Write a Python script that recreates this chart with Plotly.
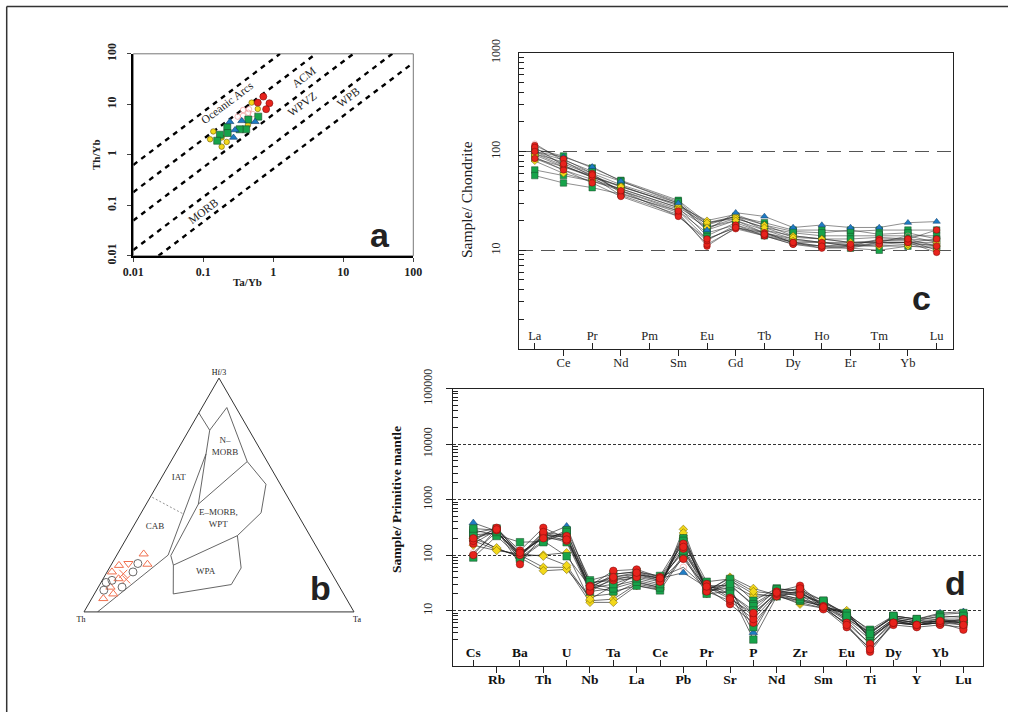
import math
import plotly.graph_objects as go

FIG_W, FIG_H = 1014, 718
SERIF = "Liberation Serif"
SANS = "Liberation Sans"

# ======================= Panel a : Th/Yb vs Ta/Yb =======================
a_green_ta_yb = [0.61, 0.44, 0.22, 0.41, 0.33, 0.173, 0.223, 0.158]
a_green_th_yb = [5.7, 5.0, 3.5, 3.2, 3.2, 2.5, 2.7, 1.9]
a_red_ta_yb = [0.72, 0.60, 0.88, 0.79]
a_red_th_yb = [14.2, 10.8, 10.5, 8.0]
a_yellow_ta_yb = [0.49, 0.60, 0.435, 0.125, 0.183, 0.216, 0.183, 0.139]
a_yellow_th_yb = [10.8, 8.1, 3.9, 2.03, 2.2, 1.8, 1.45, 2.9]
a_blue_ta_yb = [0.24, 0.354, 0.55, 0.284, 0.27]
a_blue_th_yb = [4.5, 4.7, 4.5, 3.1, 2.2]
a_pink_ta_yb = [0.37, 0.45, 0.31, 0.37, 0.51, 0.44]
a_pink_th_yb = [7.7, 8.0, 5.7, 5.9, 6.4, 6.8]

# field boundaries (start and end points, Ta/Yb, Th/Yb)
a_bound_x_start = [0.01, 0.01, 0.01, 0.01, 0.0229]
a_bound_y_start = [0.63, 0.182, 0.05, 0.013, 0.01]
a_bound_x_end = [1.245, 4.07, 13.9, 50.1, 100]
a_bound_y_end = [100, 100, 100, 100, 66.4]

a_field_names = ["Oceanic Arcs", "ACM", "WPVZ", "WPB", "MORB"]
a_field_x = [0.215, 2.75, 2.6, 12.0, 0.1]
a_field_y = [10.8, 34, 10.0, 13.8, 0.078]

a_ticks = [0.01, 0.1, 1, 10, 100]
a_ticktext = ["0.01", "0.1", "1", "10", "100"]

# ======================= Panel b : Hf/3 - Th - Ta =======================
b_d_line_hf = [0.0, 0.243, 0.676, 0.777, 0.851]
b_d_line_th = [0.95, 0.567, 0.21, 0.146, 0.149]
b_d_line_ta = [0.05, 0.19, 0.114, 0.077, 0.0]

b_a_field_hf = [0.777, 0.874, 0.643, 0.461, 0.676]
b_a_field_th = [0.146, 0.034, 0.074, 0.346, 0.21]
b_a_field_ta = [0.077, 0.092, 0.283, 0.193, 0.114]

b_b_field_hf = [0.643, 0.546, 0.424, 0.326, 0.2, 0.241, 0.461]
b_b_field_th = [0.074, 0.053, 0.132, 0.269, 0.569, 0.558, 0.346]
b_b_field_ta = [0.283, 0.401, 0.444, 0.405, 0.231, 0.201, 0.193]

b_wpa_hf = [0.2, 0.077, 0.117, 0.188, 0.326]
b_wpa_th = [0.569, 0.631, 0.396, 0.324, 0.269]
b_wpa_ta = [0.231, 0.292, 0.487, 0.488, 0.405]

b_dash_hf = [0.49, 0.421]
b_dash_th = [0.502, 0.425]
b_dash_ta = [0.008, 0.154]

b_label_text = ["N\u2013<br>MORB", "IAT", "CAB", "E\u2013MORB,<br>WPT", "WPA"]
b_label_hf = [0.707, 0.574, 0.366, 0.399, 0.171]
b_label_th = [0.124, 0.362, 0.554, 0.303, 0.464]
b_label_ta = [0.169, 0.064, 0.08, 0.298, 0.365]

b_tri_hf = [0.248, 0.204, 0.199, 0.171, 0.142, 0.106, 0.077, 0.057]
b_tri_th = [0.655, 0.663, 0.771, 0.811, 0.801, 0.849, 0.853, 0.9]
b_tri_ta = [0.097, 0.133, 0.03, 0.018, 0.057, 0.045, 0.07, 0.043]
b_inv_hf = [0.207]
b_inv_th = [0.732]
b_inv_ta = [0.061]
b_x_hf = [0.163, 0.139]
b_x_th = [0.773, 0.774]
b_x_ta = [0.064, 0.087]
b_circ_hf = [0.207, 0.171, 0.135, 0.126, 0.093, 0.106]
b_circ_th = [0.697, 0.733, 0.829, 0.855, 0.88, 0.806]
b_circ_ta = [0.096, 0.096, 0.036, 0.019, 0.027, 0.088]

# ======================= Panel c : REE / chondrite =======================
c_elements = ["La", "Ce", "Pr", "Nd", "Pm", "Sm", "Eu", "Gd", "Tb", "Dy", "Ho", "Er", "Tm", "Yb", "Lu"]
# values for all elements except Pm (not analysed)
c_green = [
    [105, 90, 68, 51, 32, 19, 22, 19, 16, 16, 15.5, 16, 16, 16],
    [95, 78, 60, 46, 30, 17, 21, 17, 15, 14, 14, 14, 14, 14],
    [65, 57, 50, 42, 27, 14, 19, 15, 13, 12, 12, 12, 12, 11],
    [57, 48, 43, 37, 25, 15, 18, 14, 12, 11, 10.5, 10, 11, 10.5],
    [85, 70, 55, 44, 29, 16, 20, 16, 14, 13, 13, 13.5, 13, 12.5],
    [100, 82, 63, 50, 31, 18, 22, 18, 15.5, 15, 16, 14.5, 15, 13],
]
c_red = [
    [115, 84, 60, 38, 24, 11, 17, 14, 11.5, 11, 11, 13, 13, 16],
    [110, 72, 55, 36, 23, 11.5, 16.5, 14, 11.5, 10.5, 10.5, 12, 12, 13],
    [85, 65, 48, 35, 22, 12.5, 18, 15, 12, 12, 11, 11.5, 12, 9.5],
    [100, 75, 58, 40, 25, 13, 17, 14.5, 12, 11, 11.5, 12.5, 13, 11],
]
c_yellow = [
    [95, 72, 55, 45, 28, 20, 23, 18, 14, 13, 12, 12, 12, 12],
    [88, 65, 52, 42, 27, 18.5, 22, 16, 13, 12, 11.5, 11, 11, 11],
    [92, 70, 57, 44, 29, 19, 21, 17, 13.5, 13, 12, 12.5, 12.5, 10],
    [80, 60, 50, 40, 26, 17, 20, 15, 12.5, 12, 11, 11, 11.5, 11.5],
]
c_blue = [
    [100, 88, 70, 50, 30, 16, 24, 22, 17, 18, 17, 17, 19, 19.5],
]
c_pink = [
    [120, 80, 56, 40, 22, 13, 17, 15, 12, 10.5, 11, 12, 14, 12],
]

# ======================= Panel d : spider / primitive mantle =======================
d_elements = ["Cs", "Rb", "Ba", "Th", "U", "Nb", "Ta", "La", "Ce", "Pb", "Pr",
              "Sr", "P", "Nd", "Zr", "Sm", "Eu", "Ti", "Dy", "Y", "Yb", "Lu"]
d_green = [
    [280, 230, 170, 175, 280, 35, 45, 50, 42, 200, 33, 37, 15, 25, 22, 15, 8.5, 4.5, 8, 7, 8.5, 9],
    [230, 250, 110, 200, 250, 30, 40, 45, 38, 110, 28, 28, 13, 23, 20, 14, 8, 4, 7.5, 6.5, 8, 7.5],
    [90, 220, 90, 180, 95, 27, 22, 28, 23, 95, 20, 22, 3, 18, 15, 12, 7, 3, 6.5, 5.5, 6, 6],
    [200, 260, 100, 220, 170, 22, 25, 33, 26, 100, 23, 25, 5, 20, 16, 13, 7.5, 3.5, 7, 6, 6.5, 6.5],
    [250, 300, 100, 230, 210, 32, 35, 38, 30, 180, 25, 30, 12, 22, 18, 14, 9, 4.2, 7.5, 6.5, 7, 7],
    [300, 280, 85, 170, 260, 25, 30, 42, 35, 120, 30, 20, 10, 24, 24, 15, 8, 3.8, 8, 7, 7.5, 8],
]
d_red = [
    [100, 300, 120, 310, 200, 28, 52, 55, 40, 160, 30, 17, 8, 22, 28, 12, 5.5, 1.8, 6, 5.5, 6, 7],
    [160, 280, 68, 240, 180, 25, 35, 45, 35, 85, 25, 13, 6, 18, 22, 11, 5, 2.1, 5.5, 5, 5.5, 5],
    [180, 310, 100, 260, 220, 22, 38, 40, 33, 130, 22, 15, 7, 20, 19, 10.5, 6, 2.5, 6, 5.5, 6, 4.5],
    [200, 290, 110, 200, 190, 27, 40, 48, 38, 140, 27, 16, 9, 21, 25, 11.5, 5.5, 2, 6, 5.5, 6.5, 5.5],
]
d_yellow = [
    [220, 130, 95, 100, 110, 15, 16, 30, 25, 290, 22, 40, 25, 19, 13, 11, 10, 3, 7, 6, 7, 6],
    [180, 125, 100, 60, 60, 14, 14, 28, 24, 220, 20, 35, 20, 18, 14, 11, 9, 3.2, 6.5, 5.5, 6, 5.5],
    [200, 135, 90, 52, 55, 18, 20, 32, 26, 250, 21, 30, 18, 19, 15, 12, 8.5, 3.5, 7, 6, 6.5, 6],
    [150, 120, 105, 95, 65, 16, 28, 35, 28, 200, 23, 38, 22, 20, 16, 12, 9, 3.3, 6.5, 6, 6.5, 6.5],
]
d_blue = [
    [380, 270, 95, 220, 330, 30, 25, 45, 38, 48, 26, 25, 4, 22, 20, 13, 7, 4, 8, 7, 9, 9.5],
]
d_pink = [
    [110, 260, 95, 250, 200, 25, 45, 50, 40, 60, 25, 20, 9, 20, 22, 12, 6.5, 2.5, 6.5, 5.5, 6.5, 6],
]

# ======================= styles =======================
GROUPS = {
    "green": dict(symbol="square", color="#17a34a", line="#1d4a2a", size_a=7, size_c=6.5, size_d=7.5),
    "red": dict(symbol="circle", color="#e8231c", line="#7a0a0a", size_a=7, size_c=6.5, size_d=7.5),
    "yellow": dict(symbol="diamond", color="#f3d81a", line="#6b5a00", size_a=5.5, size_c=5.5, size_d=6.5),
    "blue": dict(symbol="triangle-up", color="#1f7cc4", line="#0d3a66", size_a=7, size_c=6.5, size_d=7.5),
    "pink": dict(symbol="circle-open", color="#f08a8a", line="#f08a8a", size_a=5.5, size_c=5.5, size_d=6.5),
}


def px_x(p):
    return p / FIG_W


def px_y(p):
    return 1 - p / FIG_H


fig = go.Figure()

# ---------- panel a ----------
for xs, ys, xe, ye in zip(a_bound_x_start, a_bound_y_start, a_bound_x_end, a_bound_y_end):
    fig.add_trace(go.Scatter(x=[xs, xe], y=[ys, ye], mode="lines", xaxis="x", yaxis="y",
                             line=dict(color="black", width=2.4, dash="5px,5px"),
                             showlegend=False, hoverinfo="skip"))

a_sets = [("yellow", a_yellow_ta_yb, a_yellow_th_yb), ("pink", a_pink_ta_yb, a_pink_th_yb),
          ("green", a_green_ta_yb, a_green_th_yb), ("blue", a_blue_ta_yb, a_blue_th_yb),
          ("red", a_red_ta_yb, a_red_th_yb)]
for g, xs, ys in a_sets:
    st = GROUPS[g]
    sym = "circle" if g == "yellow" else st["symbol"]
    fig.add_trace(go.Scatter(x=xs, y=ys, mode="markers", xaxis="x", yaxis="y",
                             marker=dict(symbol=sym, size=st["size_a"], color=st["color"],
                                         line=dict(color=st["line"], width=0.6)),
                             showlegend=False))

# ---------- panel b (ternary) ----------
def tern_line(hf, th, ta, dash=None, width=0.9, color="#555"):
    fig.add_trace(go.Scatterternary(a=hf, b=th, c=ta, mode="lines", subplot="ternary",
                                    line=dict(color=color, width=width, dash=dash),
                                    showlegend=False, hoverinfo="skip"))

tern_line(b_d_line_hf, b_d_line_th, b_d_line_ta)
tern_line(b_a_field_hf, b_a_field_th, b_a_field_ta)
tern_line(b_b_field_hf, b_b_field_th, b_b_field_ta)
tern_line(b_wpa_hf, b_wpa_th, b_wpa_ta)
tern_line(b_dash_hf, b_dash_th, b_dash_ta, dash="2px,2px", width=0.8, color="#777")

fig.add_trace(go.Scatterternary(a=b_label_hf, b=b_label_th, c=b_label_ta, mode="text",
                                text=b_label_text, subplot="ternary",
                                textfont=dict(family=SERIF, size=9, color="#333"),
                                showlegend=False, hoverinfo="skip"))
for hf, th, ta, sym, col in [(b_tri_hf, b_tri_th, b_tri_ta, "triangle-up-open", "#f0704f"),
                             (b_inv_hf, b_inv_th, b_inv_ta, "triangle-down-open", "#f0704f"),
                             (b_x_hf, b_x_th, b_x_ta, "x-thin-open", "#f0704f"),
                             (b_circ_hf, b_circ_th, b_circ_ta, "circle-open", "#6a6a6a")]:
    fig.add_trace(go.Scatterternary(a=hf, b=th, c=ta, mode="markers", subplot="ternary",
                                    marker=dict(symbol=sym, size=8, color=col,
                                                line=dict(color=col, width=1)),
                                    showlegend=False))

# ---------- panel c ----------
c_x = list(range(len(c_elements)))
PM = c_elements.index("Pm")


def with_gap(vals):
    return vals[:PM] + [None] + vals[PM:]


c_groups = [("green", c_green), ("yellow", c_yellow), ("pink", c_pink), ("blue", c_blue), ("red", c_red)]
for g, samples in c_groups:
    for s in samples:
        fig.add_trace(go.Scatter(x=c_x, y=with_gap(s), mode="lines", xaxis="x2", yaxis="y2",
                                 connectgaps=True, line=dict(color="rgba(40,40,40,0.75)", width=0.7),
                                 showlegend=False, hoverinfo="skip"))
for g, samples in c_groups:
    st = GROUPS[g]
    xs, ys = [], []
    for s in samples:
        xs += c_x
        ys += with_gap(s)
    fig.add_trace(go.Scatter(x=xs, y=ys, mode="markers", xaxis="x2", yaxis="y2",
                             marker=dict(symbol=st["symbol"], size=st["size_c"], color=st["color"],
                                         line=dict(color=st["line"], width=0.5)),
                             showlegend=False))

# ---------- panel d ----------
d_x = list(range(len(d_elements)))
d_groups = [("yellow", d_yellow), ("pink", d_pink), ("blue", d_blue), ("green", d_green), ("red", d_red)]
for g, samples in d_groups:
    for s in samples:
        fig.add_trace(go.Scatter(x=d_x, y=s, mode="lines", xaxis="x3", yaxis="y3",
                                 line=dict(color="rgba(30,30,30,0.8)", width=0.8),
                                 showlegend=False, hoverinfo="skip"))
for g, samples in d_groups:
    st = GROUPS[g]
    xs, ys = [], []
    for s in samples:
        xs += d_x
        ys += s
    fig.add_trace(go.Scatter(x=xs, y=ys, mode="markers", xaxis="x3", yaxis="y3",
                             marker=dict(symbol=st["symbol"], size=st["size_d"], color=st["color"],
                                         line=dict(color=st["line"], width=0.5)),
                             showlegend=False))

# empty helper traces so that the overlaid label axes are drawn
fig.add_trace(go.Scatter(x=[], y=[], xaxis="x4", yaxis="y2", showlegend=False, hoverinfo="skip"))
fig.add_trace(go.Scatter(x=[], y=[], xaxis="x5", yaxis="y3", showlegend=False, hoverinfo="skip"))

# ======================= layout =======================
A_X = [px_x(133.3), px_x(413.3)]
A_Y = [px_y(255.8), px_y(53.8)]
C_X = [px_x(519), px_x(953)]
C_Y = [px_y(349), px_y(52.7)]
D_X = [px_x(453), px_x(983)]
D_Y = [px_y(666), px_y(388.5)]
T_X = [px_x(84), px_x(354)]
T_Y = [px_y(612), px_y(378)]

c_minor = [m * 10 ** e for e in range(0, 3) for m in range(2, 10)]
d_minor = [m * 10 ** e for e in range(0, 5) for m in range(2, 10)]

c_even = [i for i in c_x if i % 2 == 0]
c_odd = [i for i in c_x if i % 2 == 1]
d_even = [i for i in d_x if i % 2 == 0]
d_odd = [i for i in d_x if i % 2 == 1]
C_RANGE = [-0.55, 14.57]
D_RANGE = [-0.87, 21.84]

tern_axis = dict(showticklabels=False, ticks="", showgrid=False, linecolor="#333", linewidth=1,
                 min=0)
noauto = dict(automargin=False)

fig.update_layout(
    template="none",
    width=FIG_W, height=FIG_H,
    margin=dict(l=0, r=0, t=0, b=0, pad=0, autoexpand=False),
    paper_bgcolor="white", plot_bgcolor="white",
    showlegend=False,
    font=dict(family=SERIF, color="#111"),
    # panel a
    xaxis=dict(domain=A_X, anchor="y", type="log", range=[-2, 2], tickvals=a_ticks,
               ticktext=[f"<b>{t}</b>" for t in a_ticktext], ticks="outside", ticklen=4,
               showline=True, linewidth=2, linecolor="black", showgrid=False, zeroline=False,
               tickfont=dict(family=SERIF, size=12, color="#222"), **noauto),
    yaxis=dict(domain=A_Y, anchor="x", type="log", range=[-2, 2], tickvals=a_ticks,
               ticktext=[f"<b>{t}</b>" for t in a_ticktext], ticks="outside", ticklen=4,
               tickangle=-90, showline=True, linewidth=2, linecolor="black", showgrid=False,
               zeroline=False, tickfont=dict(family=SERIF, size=12, color="#222"),
               ticklabelstandoff=7, **noauto),
    # panel c
    xaxis2=dict(domain=C_X, anchor="y2", range=C_RANGE, tickvals=c_odd,
                ticktext=[c_elements[i] for i in c_odd], ticks="outside", ticklen=6,
                tickcolor="#222", showline=True, linecolor="#222", linewidth=1.2, mirror=True,
                showgrid=False, zeroline=False, tickfont=dict(family=SERIF, size=12.5, color="#222"),
                ticklabelstandoff=-4, **noauto),
    xaxis4=dict(domain=C_X, anchor="y2", overlaying="x2", range=C_RANGE, tickvals=c_even,
                ticktext=[c_elements[i] for i in c_even], ticks="inside", ticklen=6,
                tickcolor="#222", ticklabelposition="inside", showline=False, showgrid=False,
                zeroline=False, tickfont=dict(family=SERIF, size=12.5, color="#222"), **noauto),
    yaxis2=dict(domain=C_Y, anchor="x2", type="log", range=[0, 3], tickvals=[1, 10, 100, 1000],
                ticktext=["1", "10", "100", "1000"], tickangle=-90, ticks="inside", ticklen=7,
                tickcolor="#222", showline=True, linecolor="#222", linewidth=1.2, mirror=True,
                showgrid=True, gridcolor="#555", gridwidth=1.3, griddash="14px,8px", zeroline=False,
                minor=dict(tickvals=c_minor, ticks="inside", ticklen=5, tickcolor="#222", showgrid=False),
                tickfont=dict(family=SERIF, size=12, color="#222"), ticklabelstandoff=13, **noauto),
    # panel d
    xaxis3=dict(domain=D_X, anchor="y3", range=D_RANGE, tickvals=d_odd,
                ticktext=[f"<b>{d_elements[i]}</b>" for i in d_odd], ticks="outside", ticklen=6,
                tickcolor="#222", showline=True, linecolor="#222", linewidth=1.4, mirror=True,
                showgrid=False, zeroline=False, tickfont=dict(family=SERIF, size=13.5, color="#111"),
                ticklabelstandoff=-5, **noauto),
    xaxis5=dict(domain=D_X, anchor="y3", overlaying="x3", range=D_RANGE, tickvals=d_even,
                ticktext=[f"<b>{d_elements[i]}</b>" for i in d_even], ticks="inside", ticklen=6,
                tickcolor="#222", ticklabelposition="inside", showline=False, showgrid=False,
                zeroline=False, tickfont=dict(family=SERIF, size=13.5, color="#111"), **noauto),
    yaxis3=dict(domain=D_Y, anchor="x3", type="log", range=[0, 5],
                tickvals=[1, 10, 100, 1000, 10000, 100000],
                ticktext=["1", "10", "100", "1000", "10000", "100000"], tickangle=-90,
                ticks="outside", ticklen=6, tickcolor="#222", showline=True, linecolor="#222",
                linewidth=1.4, mirror=True, showgrid=True, gridcolor="#333", gridwidth=1,
                griddash="3px,2px", zeroline=False,
                minor=dict(tickvals=d_minor, ticks="inside", ticklen=5, tickcolor="#222", showgrid=False),
                tickfont=dict(family=SERIF, size=12, color="#222"), ticklabelstandoff=9, **noauto),
    ternary=dict(domain=dict(x=T_X, y=T_Y), sum=1, bgcolor="white",
                 aaxis=dict(title=dict(text="Hf/3", font=dict(family=SERIF, size=8)), **tern_axis),
                 baxis=dict(title=dict(text="Th", font=dict(family=SERIF, size=8)), **tern_axis),
                 caxis=dict(title=dict(text="Ta", font=dict(family=SERIF, size=8)), **tern_axis)),
)

# panel a: thin frame on top/right
fig.add_shape(type="rect", xref="x domain", yref="y domain", x0=0, x1=1, y0=0, y1=1,
              line=dict(color="#777", width=1), layer="below")

# field labels of panel a (annotation positions on log axes are log10 values)
for name, fx, fy in zip(a_field_names, a_field_x, a_field_y):
    fig.add_annotation(x=math.log10(fx), y=math.log10(fy), xref="x", yref="y", text=name,
                       showarrow=False, textangle=-37,
                       font=dict(family=SERIF, size=11.5, color="#222"))

# axis titles and panel letters
texts = [
    ("<b>Ta/Yb</b>", 247, 282, 0, SERIF, 11, "#222"),
    ("<b>Th/Yb</b>", 96, 155, -90, SERIF, 11, "#222"),
    ("Sample/ Chondrite", 466, 200, -90, SERIF, 15.5, "#222"),
    ("<b>Sample/ Primitive mantle</b>", 396, 500, -90, SERIF, 13.5, "#111"),
    ("<b>a</b>", 380, 235, 0, SANS, 34, "#222"),
    ("<b>b</b>", 320, 588, 0, SANS, 34, "#222"),
    ("<b>c</b>", 921, 298, 0, SANS, 34, "#222"),
    ("<b>d</b>", 955, 583, 0, SANS, 34, "#222"),
]
for t, x, y, ang, fam, size, col in texts:
    fig.add_annotation(x=px_x(x), y=px_y(y), xref="paper", yref="paper", text=t,
                       showarrow=False, textangle=ang, xanchor="center", yanchor="middle",
                       font=dict(family=fam, size=size, color=col))

# outer frame (top and left)
fig.add_shape(type="line", xref="paper", yref="paper", x0=px_x(6.7), x1=px_x(1008),
              y0=px_y(6.5), y1=px_y(6.5), line=dict(color="#333", width=1.5))
fig.add_shape(type="line", xref="paper", yref="paper", x0=px_x(6.7), x1=px_x(6.7),
              y0=px_y(6.5), y1=px_y(712), line=dict(color="#333", width=1.5))

fig.write_html("out.html", config={"displayModeBar": False},
               post_script="document.body.style.margin='0px';")
